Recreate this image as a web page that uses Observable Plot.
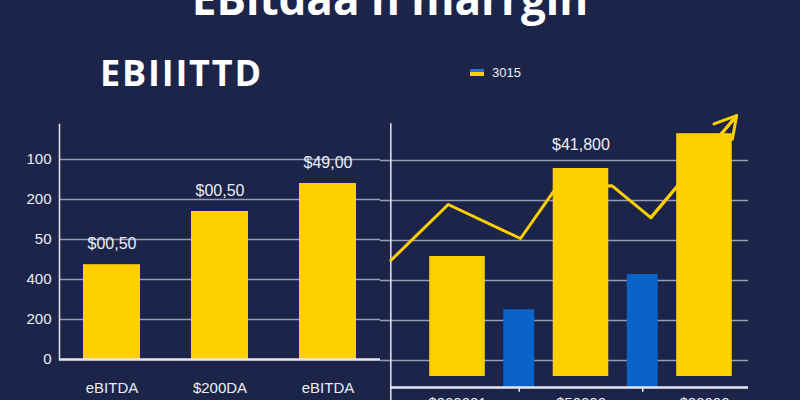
<!DOCTYPE html>
<html><head><meta charset="utf-8">
<script src="https://cdn.jsdelivr.net/npm/d3@7"></script>
<script src="https://cdn.jsdelivr.net/npm/@observablehq/plot@0.6"></script>
<style>
html,body{margin:0;padding:0;background:#1c2549;}
#wrap{position:relative;width:800px;height:400px;overflow:hidden;background:#1c2549;font-family:"Liberation Sans",Arial,sans-serif;color:#eef0f5;}
#title{position:absolute;left:0;width:780px;text-align:center;top:-32px;font:700 44px "Open Sans",sans-serif;color:#fff;white-space:nowrap;}
#subtitle{position:absolute;left:100px;top:48px;font:700 36px "Open Sans",sans-serif;color:#fff;letter-spacing:1.8px;}
#legend{position:absolute;left:470px;top:65px;font-size:13px;color:#eef0f5;display:flex;align-items:center;gap:8px;}
#legend .sw{width:14px;height:7px;background:linear-gradient(#2a6fd6 0 45%,#ffd000 45% 100%);}
#left{position:absolute;left:0;top:100px;}
#right{position:absolute;left:380px;top:100px;}
</style></head>
<body><div id="wrap">
<div id="title">EBitdaa n marrgin</div>
<div id="subtitle">EBIIITTD</div>
<div id="legend"><div class="sw"></div><span id="legtext"></span></div>
<div id="left"></div>
<div id="right"></div>
</div>
<script>
// ---- data ----
const legendLabel = "3015";
const leftCategories = ["eBITDA\n10,2010", "$200DA\n10,2100", "eBITDA\n10,2010"];
const leftValues = [237, 370, 440];
const leftValueLabels = ["$00,50", "$00,50", "$49,00"];
const leftTickValues = [0, 100, 200, 300, 400, 500];
const leftTickLabels = ["0", "200", "400", "50", "200", "100"];

const rightYellowIndex = [1, 3, 5];
const rightYellowValues = [260, 480, 567];
const rightYellowLabels = ["$000001", "$50000", "$20000"];
const rightBlueIndex = [2, 4];
const rightBlueValues = [127, 215];
const rightValueLabel = "$41,800";
const rightGridValues = [0, 100, 200, 300, 400, 500];
const lineX = [-0.08, 0.85, 2.02, 2.6, 3.5, 4.13, 5.52];
const lineY = [250, 390, 305, 432, 437, 357, 612];

// ---- styles ----
const YELLOW = "#ffd000";
const BLUE = "#0b63c8";
const GRID = "#b4bad0";
const AXIS = "#e6e8f0";
const TEXT = "#eceef4";
const FONT = "'Liberation Sans', Arial, sans-serif";

document.getElementById("legtext").textContent = legendLabel;

const leftData = leftCategories.map((c, k) => ({k, c, v: leftValues[k], label: leftValueLabels[k]}));
const leftKeys = leftData.map(d => d.k);

const left = Plot.plot({
  width: 390, height: 300,
  marginLeft: 59, marginRight: 10, marginTop: 24, marginBottom: 41,
  style: {background: "transparent", color: TEXT, fontSize: "15px", fontFamily: FONT},
  x: {type: "band", domain: leftKeys, paddingInner: 0.47, paddingOuter: 0.22, axis: null},
  y: {domain: [0, 587.5], axis: null},
  marks: [
    Plot.gridY(leftTickValues.slice(1), {stroke: GRID, strokeOpacity: 0.8, strokeWidth: 1.5}),
    Plot.axisY({ticks: leftTickValues, tickFormat: d => leftTickLabels[leftTickValues.indexOf(d)], tickSize: 0, tickPadding: 8, label: null, fontSize: 15, fill: TEXT}),
    Plot.frame({anchor: "left", stroke: AXIS, strokeWidth: 1.5}),
    Plot.barY(leftData, {x: "k", y: "v", fill: YELLOW}),
    Plot.ruleY([0], {stroke: AXIS, strokeWidth: 2.5}),
    Plot.text(leftData, {x: "k", y: "v", text: "label", dy: -21, fill: TEXT, fontSize: 16}),
    Plot.text(leftData, {x: "k", text: "c", frameAnchor: "bottom", lineAnchor: "top", dy: 21, fill: TEXT, fontSize: 15, lineHeight: 1.15})
  ]
});
document.getElementById("left").appendChild(left);

const yellowData = rightYellowIndex.map((i, k) => ({i, v: rightYellowValues[k], label: rightYellowLabels[k]}));
const blueData = rightBlueIndex.map((i, k) => ({i, v: rightBlueValues[k]}));
const lineData = lineX.map((x, k) => ({x, y: lineY[k]}));
const yMin = -67.5, yellowBase = -40, xAxisPos = lineX[0];
const n = lineData.length;

const right = Plot.plot({
  width: 420, height: 300,
  marginLeft: 0, marginRight: 52, marginTop: 4, marginBottom: 13,
  style: {background: "transparent", color: TEXT, fontSize: "15px", fontFamily: FONT, overflow: "visible"},
  x: {type: "linear", domain: [-0.247, 5.713], axis: null},
  y: {type: "linear", domain: [yMin, 640], axis: null},
  marks: [
    Plot.gridY(rightGridValues, {stroke: GRID, strokeOpacity: 0.8, strokeWidth: 1.5}),
    Plot.ruleX([xAxisPos], {y1: -115, y2: 592, stroke: AXIS, strokeWidth: 1.5}),
    Plot.line(lineData, {x: "x", y: "y", stroke: YELLOW, strokeWidth: 3}),
    Plot.rectY(yellowData, {x1: d => d.i - 0.45, x2: d => d.i + 0.45, y1: yellowBase, y2: "v", fill: YELLOW}),
    Plot.rectY(blueData, {x1: d => d.i - 0.25, x2: d => d.i + 0.25, y1: yMin, y2: "v", fill: BLUE}),
    Plot.arrow([{a: lineData[n-2], b: lineData[n-1]}], {x1: d => d.a.x, y1: d => d.a.y, x2: d => d.b.x, y2: d => d.b.y, stroke: YELLOW, strokeWidth: 3, headLength: 12}),
    Plot.ruleY([yMin], {x1: xAxisPos, x2: 5.713, stroke: AXIS, strokeWidth: 2.5}),
    Plot.ruleX(blueData, {x: "i", y1: yMin, y2: yMin - 12, stroke: AXIS, strokeWidth: 1.5}),
    Plot.text([yellowData[1]], {x: "i", y: "v", text: () => rightValueLabel, dy: -24, fill: TEXT, fontSize: 16}),
    Plot.text(yellowData, {x: "i", y: yMin, text: "label", dy: 16, fill: TEXT, fontSize: 15})
  ]
});
document.getElementById("right").appendChild(right);
</script>
</body></html>
